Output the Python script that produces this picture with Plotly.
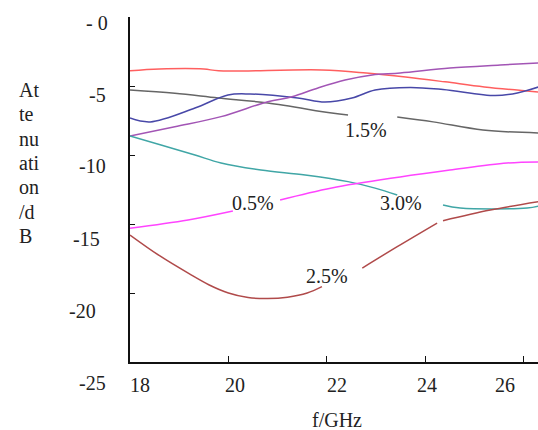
import plotly.graph_objects as go

# ---------------- data ----------------
red_f = [18.0, 18.6, 19.5, 19.8, 21.9, 22.8, 23.6, 24.4, 25.2, 26.3]
red_v = [-3.9, -3.77, -3.77, -3.9, -3.84, -4.06, -4.35, -4.7, -5.07, -5.43]

gray_f = [18.0, 18.91, 19.79, 20.8, 22.1, 22.43, None, 23.43, 24.16, 25.17, 26.3]
gray_v = [-5.29, -5.53, -5.87, -6.23, -6.96, -7.1, None, -7.25, -7.6, -8.19, -8.4]

blue_f = [18.0, 18.41, 19.32, 19.99, 20.44, 21.41, 21.96, 22.51, 22.98, 23.69, 24.36, 25.42, 25.87, 26.3]
blue_v = [-7.32, -7.6, -6.6, -5.65, -5.58, -5.87, -6.16, -5.87, -5.29, -5.1, -5.25, -5.69, -5.5, -5.07]

purple_f = [18.0, 18.91, 19.85, 20.8, 21.29, 21.82, 22.37, 22.92, 23.49, 24.5, 25.52, 26.3]
purple_v = [-8.62, -7.95, -7.22, -6.14, -5.78, -5.14, -4.57, -4.2, -4.06, -3.7, -3.48, -3.33]

teal_f = [18.0, 18.63, 19.32, 19.85, 20.66, 21.56, 22.43, 22.98, 23.43, None, 24.36, 24.71, 26.07, 26.3]
teal_v = [-8.62, -9.28, -10.0, -10.58, -11.09, -11.45, -11.93, -12.4, -12.9, None, -13.62, -13.84, -13.84, -13.7]

magenta_f = [18.0, 19.18, 20.09, None, 21.05, 22.1, 23.49, 24.5, 25.66, 26.3]
magenta_v = [-15.31, -14.71, -14.06, None, -13.26, -12.39, -11.59, -11.09, -10.58, -10.5]

brown_f = [18.0, 18.6, 19.2, 19.6, 20.0, 20.4, 20.8, 21.2, 21.6, 21.9, None,
           22.72, 23.43, 24.24, None, 24.36, 25.32, 26.3]
brown_v = [-15.8, -17.3, -18.6, -19.4, -20.0, -20.33, -20.4, -20.3, -20.0, -19.54, None,
           -18.19, -16.64, -14.93, None, -14.76, -13.99, -13.38]

curve_labels = ["1.5%", "0.5%", "3.0%", "2.5%"]
curve_label_f = [22.79, 20.5, 23.5, 22.0]
curve_label_v = [-8.2, -13.5, -13.5, -18.8]

x_tick_vals = [18, 20, 22, 24, 26]
x_tick_text = ["18", "20", "22", "24", "26"]
y_tick_vals = [0, -5, -10, -15, -20, -25]
y_tick_text = ["- 0", "-5", "-10", "-15", "-20", "-25"]
y_title_lines = ["At", "te", "nu", "ati", "on", "/d", "B"]

# ---------------- style ----------------
FONT = "Liberation Serif, Times New Roman, serif"
FS = 20
W, H = 538, 430
ML, MT, MB, MR = 130, 17, 68, 0

x_label_shift = [10, 7, 10, 2, -19]
y_label_xshift = [-20, -22, -22, -28, -32, -22]
y_label_yshift = [-6, -9, -11, -15, -18, -21]

series = [
    (red_f, red_v, "#ff5f5f"),
    (gray_f, gray_v, "#666666"),
    (blue_f, blue_v, "#4848a8"),
    (purple_f, purple_v, "#a255b5"),
    (teal_f, teal_v, "#40a6a6"),
    (magenta_f, magenta_v, "#ff44ff"),
    (brown_f, brown_v, "#b04a4a"),
]

fig = go.Figure()
for f, v, c in series:
    fig.add_trace(go.Scatter(x=f, y=v, mode="lines", connectgaps=False,
                             line=dict(color=c, width=1.5, shape="spline", smoothing=1.0),
                             showlegend=False, hoverinfo="skip"))

ann = []
for t, fx, fy in zip(curve_labels, curve_label_f, curve_label_v):
    ann.append(dict(x=fx, y=fy, xref="x", yref="y", text=t, showarrow=False,
                    font=dict(family=FONT, size=FS, color="#222222")))
for v, t, xs in zip(x_tick_vals, x_tick_text, x_label_shift):
    ann.append(dict(x=v, y=0, xref="x", yref="paper", text=t, showarrow=False,
                    xanchor="center", yanchor="middle", xshift=xs, yshift=-23,
                    font=dict(family=FONT, size=FS, color="#222222")))
for v, t, xs, ys in zip(y_tick_vals, y_tick_text, y_label_xshift, y_label_yshift):
    ann.append(dict(x=0, y=v, xref="paper", yref="y", text=t, showarrow=False,
                    xanchor="right", yanchor="middle", xshift=xs, yshift=ys,
                    font=dict(family=FONT, size=FS, color="#222222")))
for i, t in enumerate(y_title_lines):
    ann.append(dict(x=0, y=1, xref="paper", yref="paper", text=t, showarrow=False,
                    xanchor="left", yanchor="middle", xshift=17 - ML,
                    yshift=-(90 + 24.3 * i - MT),
                    font=dict(family=FONT, size=FS, color="#222222")))
ann.append(dict(x=0.5, y=0, xref="paper", yref="paper", text="f/GHz", showarrow=False,
                xanchor="center", yanchor="middle", xshift=337 - (ML + (W - ML - MR) / 2),
                yshift=-(420 - (H - MB)),
                font=dict(family=FONT, size=FS, color="#222222")))

fig.update_layout(
    width=W, height=H,
    margin=dict(l=ML, r=MR, t=MT, b=MB),
    paper_bgcolor="white", plot_bgcolor="white",
    annotations=ann,
    xaxis=dict(range=[18, 26.29], showgrid=False, zeroline=False,
               showline=True, linecolor="#111111", linewidth=2,
               ticks="inside", ticklen=6, tickwidth=1, tickcolor="#111111",
               tickvals=[20, 22, 24, 26], showticklabels=False),
    yaxis=dict(range=[-25, 0], showgrid=False, zeroline=False,
               showline=True, linecolor="#111111", linewidth=2,
               ticks="inside", ticklen=5, tickwidth=1, tickcolor="#111111",
               tickvals=[0, -5, -10, -15, -20], showticklabels=False),
)

fig.write_html("out.html")
